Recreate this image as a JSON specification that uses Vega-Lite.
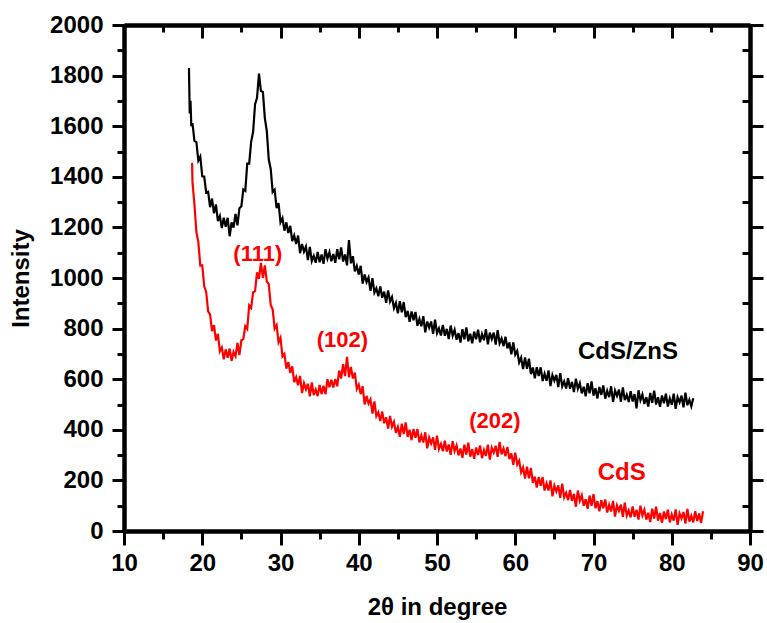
{
"$schema":"https://vega.github.io/schema/vega-lite/v6.json",
"width":626,"height":506,"autosize":"none",
"padding":{"left":124,"top":25,"right":17,"bottom":92},
"config":{"view":{"stroke":null},"font":"Liberation Sans",
"axis":{"domainColor":"#000","domainWidth":4,"tickColor":"#000","tickWidth":3,"grid":false,"labelFont":"Liberation Sans","labelFontWeight":"bold","labelFontSize":24,"labelColor":"#000","titleFont":"Liberation Sans","titleFontWeight":"bold","titleFontSize":24,"titleColor":"#000","labelFlush":false,"labelOverlap":false}},
"datasets":{
"zns":[{"t":18.3,"i":1830},{"t":18.4,"i":1650},{"t":18.5,"i":1700},{"t":18.6,"i":1600},{"t":18.75,"i":1612},{"t":19,"i":1542},{"t":19.25,"i":1537},{"t":19.5,"i":1464},{"t":19.75,"i":1480},{"t":20,"i":1402},{"t":20.25,"i":1401},{"t":20.5,"i":1338},{"t":20.75,"i":1341},{"t":21,"i":1280},{"t":21.25,"i":1314},{"t":21.5,"i":1256},{"t":21.75,"i":1291},{"t":22,"i":1225},{"t":22.25,"i":1245},{"t":22.5,"i":1197},{"t":22.75,"i":1238},{"t":23,"i":1203},{"t":23.25,"i":1238},{"t":23.5,"i":1165},{"t":23.75,"i":1220},{"t":24,"i":1199},{"t":24.25,"i":1253},{"t":24.5,"i":1208},{"t":24.75,"i":1276},{"t":25,"i":1284},{"t":25.25,"i":1350},{"t":25.5,"i":1344},{"t":25.75,"i":1452},{"t":26,"i":1452},{"t":26.25,"i":1539},{"t":26.5,"i":1578},{"t":26.75,"i":1687},{"t":27,"i":1712},{"t":27.25,"i":1808},{"t":27.5,"i":1739},{"t":27.75,"i":1735},{"t":28,"i":1632},{"t":28.25,"i":1581},{"t":28.5,"i":1468},{"t":28.75,"i":1431},{"t":29,"i":1340},{"t":29.25,"i":1349},{"t":29.5,"i":1276},{"t":29.75,"i":1296},{"t":30,"i":1220},{"t":30.25,"i":1237},{"t":30.5,"i":1187},{"t":30.75,"i":1220},{"t":31,"i":1178},{"t":31.25,"i":1206},{"t":31.5,"i":1146},{"t":31.75,"i":1168},{"t":32,"i":1134},{"t":32.25,"i":1168},{"t":32.5,"i":1098},{"t":32.75,"i":1134},{"t":33,"i":1104},{"t":33.25,"i":1124},{"t":33.5,"i":1071},{"t":33.75,"i":1123},{"t":34,"i":1067},{"t":34.25,"i":1087},{"t":34.5,"i":1060},{"t":34.75,"i":1103},{"t":35,"i":1062},{"t":35.25,"i":1093},{"t":35.5,"i":1056},{"t":35.75,"i":1114},{"t":36,"i":1077},{"t":36.25,"i":1102},{"t":36.5,"i":1066},{"t":36.75,"i":1095},{"t":37,"i":1060},{"t":37.25,"i":1114},{"t":37.5,"i":1074},{"t":37.75,"i":1121},{"t":38,"i":1065},{"t":38.25,"i":1093},{"t":38.5,"i":1050},{"t":38.75,"i":1150},{"t":39,"i":1058},{"t":39.25,"i":1086},{"t":39.5,"i":1026},{"t":39.75,"i":1048},{"t":40,"i":1014},{"t":40.25,"i":1048},{"t":40.5,"i":978},{"t":40.75,"i":1014},{"t":41,"i":984},{"t":41.25,"i":1002},{"t":41.5,"i":949},{"t":41.75,"i":999},{"t":42,"i":942},{"t":42.25,"i":959},{"t":42.5,"i":928},{"t":42.75,"i":967},{"t":43,"i":922},{"t":43.25,"i":946},{"t":43.5,"i":902},{"t":43.75,"i":951},{"t":44,"i":907},{"t":44.25,"i":925},{"t":44.5,"i":881},{"t":44.75,"i":902},{"t":45,"i":860},{"t":45.25,"i":908},{"t":45.5,"i":864},{"t":45.75,"i":905},{"t":46,"i":845},{"t":46.25,"i":870},{"t":46.5,"i":827},{"t":46.75,"i":868},{"t":47,"i":833},{"t":47.25,"i":866},{"t":47.5,"i":811},{"t":47.75,"i":838},{"t":48,"i":809},{"t":48.25,"i":849},{"t":48.5,"i":785},{"t":48.75,"i":828},{"t":49,"i":804},{"t":49.25,"i":828},{"t":49.5,"i":779},{"t":49.75,"i":835},{"t":50,"i":782},{"t":50.25,"i":801},{"t":50.5,"i":773},{"t":50.75,"i":814},{"t":51,"i":772},{"t":51.25,"i":799},{"t":51.5,"i":759},{"t":51.75,"i":812},{"t":52,"i":772},{"t":52.25,"i":795},{"t":52.5,"i":756},{"t":52.75,"i":782},{"t":53,"i":745},{"t":53.25,"i":798},{"t":53.5,"i":758},{"t":53.75,"i":805},{"t":54,"i":750},{"t":54.25,"i":780},{"t":54.5,"i":742},{"t":54.75,"i":788},{"t":55,"i":758},{"t":55.25,"i":796},{"t":55.5,"i":746},{"t":55.75,"i":778},{"t":56,"i":754},{"t":56.25,"i":798},{"t":56.5,"i":738},{"t":56.75,"i":784},{"t":57,"i":759},{"t":57.25,"i":784},{"t":57.5,"i":737},{"t":57.75,"i":794},{"t":58,"i":742},{"t":58.25,"i":761},{"t":58.5,"i":730},{"t":58.75,"i":768},{"t":59,"i":722},{"t":59.25,"i":745},{"t":59.5,"i":698},{"t":59.75,"i":745},{"t":60,"i":697},{"t":60.25,"i":712},{"t":60.5,"i":666},{"t":60.75,"i":685},{"t":61,"i":640},{"t":61.25,"i":686},{"t":61.5,"i":641},{"t":61.75,"i":681},{"t":62,"i":620},{"t":62.25,"i":646},{"t":62.5,"i":604},{"t":62.75,"i":647},{"t":63,"i":613},{"t":63.25,"i":647},{"t":63.5,"i":593},{"t":63.75,"i":622},{"t":64,"i":594},{"t":64.25,"i":635},{"t":64.5,"i":573},{"t":64.75,"i":616},{"t":65,"i":594},{"t":65.25,"i":617},{"t":65.5,"i":569},{"t":65.75,"i":624},{"t":66,"i":572},{"t":66.25,"i":591},{"t":66.5,"i":563},{"t":66.75,"i":604},{"t":67,"i":562},{"t":67.25,"i":589},{"t":67.5,"i":549},{"t":67.75,"i":602},{"t":68,"i":562},{"t":68.25,"i":584},{"t":68.5,"i":544},{"t":68.75,"i":570},{"t":69,"i":532},{"t":69.25,"i":584},{"t":69.5,"i":544},{"t":69.75,"i":591},{"t":70,"i":535},{"t":70.25,"i":564},{"t":70.5,"i":524},{"t":70.75,"i":569},{"t":71,"i":538},{"t":71.25,"i":575},{"t":71.5,"i":523},{"t":71.75,"i":554},{"t":72,"i":529},{"t":72.25,"i":572},{"t":72.5,"i":510},{"t":72.75,"i":555},{"t":73,"i":534},{"t":73.25,"i":559},{"t":73.5,"i":511},{"t":73.75,"i":568},{"t":74,"i":517},{"t":74.25,"i":538},{"t":74.5,"i":510},{"t":74.75,"i":553},{"t":75,"i":512},{"t":75.25,"i":541},{"t":75.5,"i":485},{"t":75.75,"i":556},{"t":76,"i":517},{"t":76.25,"i":540},{"t":76.5,"i":502},{"t":76.75,"i":529},{"t":77,"i":492},{"t":77.25,"i":546},{"t":77.5,"i":507},{"t":77.75,"i":555},{"t":78,"i":500},{"t":78.25,"i":529},{"t":78.5,"i":491},{"t":78.75,"i":536},{"t":79,"i":505},{"t":79.25,"i":543},{"t":79.5,"i":492},{"t":79.75,"i":524},{"t":80,"i":499},{"t":80.25,"i":543},{"t":80.5,"i":483},{"t":80.75,"i":529},{"t":81,"i":509},{"t":81.25,"i":535},{"t":81.5,"i":489},{"t":81.75,"i":547},{"t":82,"i":497},{"t":82.25,"i":519},{"t":82.5,"i":493},{"t":82.75,"i":525}],
"cds":[{"t":18.7,"i":1455},{"t":18.75,"i":1380},{"t":19,"i":1292},{"t":19.25,"i":1182},{"t":19.5,"i":1142},{"t":19.75,"i":1049},{"t":20,"i":1050},{"t":20.25,"i":967},{"t":20.5,"i":946},{"t":20.75,"i":868},{"t":21,"i":856},{"t":21.25,"i":790},{"t":21.5,"i":814},{"t":21.75,"i":753},{"t":22,"i":779},{"t":22.25,"i":710},{"t":22.5,"i":725},{"t":22.75,"i":679},{"t":23,"i":718},{"t":23.25,"i":685},{"t":23.5,"i":721},{"t":23.75,"i":673},{"t":24,"i":708},{"t":24.25,"i":691},{"t":24.5,"i":743},{"t":24.75,"i":695},{"t":25,"i":754},{"t":25.25,"i":759},{"t":25.5,"i":810},{"t":25.75,"i":799},{"t":26,"i":892},{"t":26.25,"i":882},{"t":26.5,"i":944},{"t":26.75,"i":948},{"t":27,"i":1022},{"t":27.25,"i":997},{"t":27.5,"i":1060},{"t":27.75,"i":1001},{"t":28,"i":1050},{"t":28.25,"i":987},{"t":28.5,"i":976},{"t":28.75,"i":893},{"t":29,"i":876},{"t":29.25,"i":800},{"t":29.5,"i":814},{"t":29.75,"i":746},{"t":30,"i":764},{"t":30.25,"i":690},{"t":30.5,"i":700},{"t":30.75,"i":642},{"t":31,"i":668},{"t":31.25,"i":625},{"t":31.5,"i":651},{"t":31.75,"i":588},{"t":32,"i":608},{"t":32.25,"i":576},{"t":32.5,"i":613},{"t":32.75,"i":545},{"t":33,"i":584},{"t":33.25,"i":560},{"t":33.5,"i":582},{"t":33.75,"i":532},{"t":34,"i":587},{"t":34.25,"i":537},{"t":34.5,"i":559},{"t":34.75,"i":533},{"t":35,"i":577},{"t":35.25,"i":541},{"t":35.5,"i":574},{"t":35.75,"i":540},{"t":36,"i":600},{"t":36.25,"i":568},{"t":36.5,"i":598},{"t":36.75,"i":567},{"t":37,"i":601},{"t":37.25,"i":572},{"t":37.5,"i":634},{"t":37.75,"i":603},{"t":38,"i":659},{"t":38.25,"i":612},{"t":38.5,"i":688},{"t":38.75,"i":608},{"t":39,"i":648},{"t":39.25,"i":603},{"t":39.5,"i":626},{"t":39.75,"i":561},{"t":40,"i":578},{"t":40.25,"i":541},{"t":40.5,"i":573},{"t":40.75,"i":500},{"t":41,"i":534},{"t":41.25,"i":504},{"t":41.5,"i":520},{"t":41.75,"i":464},{"t":42,"i":512},{"t":42.25,"i":454},{"t":42.5,"i":469},{"t":42.75,"i":435},{"t":43,"i":472},{"t":43.25,"i":426},{"t":43.5,"i":449},{"t":43.75,"i":405},{"t":44,"i":455},{"t":44.25,"i":412},{"t":44.5,"i":431},{"t":44.75,"i":388},{"t":45,"i":411},{"t":45.25,"i":372},{"t":45.5,"i":424},{"t":45.75,"i":383},{"t":46,"i":429},{"t":46.25,"i":372},{"t":46.5,"i":400},{"t":46.75,"i":359},{"t":47,"i":403},{"t":47.25,"i":369},{"t":47.5,"i":403},{"t":47.75,"i":350},{"t":48,"i":378},{"t":48.25,"i":350},{"t":48.5,"i":390},{"t":48.75,"i":327},{"t":49,"i":369},{"t":49.25,"i":346},{"t":49.5,"i":370},{"t":49.75,"i":321},{"t":50,"i":377},{"t":50.25,"i":324},{"t":50.5,"i":344},{"t":50.75,"i":315},{"t":51,"i":357},{"t":51.25,"i":314},{"t":51.5,"i":342},{"t":51.75,"i":301},{"t":52,"i":355},{"t":52.25,"i":316},{"t":52.5,"i":338},{"t":52.75,"i":299},{"t":53,"i":326},{"t":53.25,"i":289},{"t":53.5,"i":341},{"t":53.75,"i":302},{"t":54,"i":349},{"t":54.25,"i":294},{"t":54.5,"i":323},{"t":54.75,"i":285},{"t":55,"i":330},{"t":55.25,"i":300},{"t":55.5,"i":338},{"t":55.75,"i":288},{"t":56,"i":320},{"t":56.25,"i":297},{"t":56.5,"i":341},{"t":56.75,"i":282},{"t":57,"i":329},{"t":57.25,"i":310},{"t":57.5,"i":337},{"t":57.75,"i":293},{"t":58,"i":352},{"t":58.25,"i":303},{"t":58.5,"i":326},{"t":58.75,"i":296},{"t":59,"i":332},{"t":59.25,"i":284},{"t":59.5,"i":307},{"t":59.75,"i":262},{"t":60,"i":310},{"t":60.25,"i":263},{"t":60.5,"i":278},{"t":60.75,"i":232},{"t":61,"i":251},{"t":61.25,"i":207},{"t":61.5,"i":254},{"t":61.75,"i":208},{"t":62,"i":249},{"t":62.25,"i":190},{"t":62.5,"i":215},{"t":62.75,"i":172},{"t":63,"i":213},{"t":63.25,"i":179},{"t":63.5,"i":213},{"t":63.75,"i":160},{"t":64,"i":188},{"t":64.25,"i":160},{"t":64.5,"i":200},{"t":64.75,"i":137},{"t":65,"i":179},{"t":65.25,"i":156},{"t":65.5,"i":180},{"t":65.75,"i":131},{"t":66,"i":187},{"t":66.25,"i":133},{"t":66.5,"i":151},{"t":66.75,"i":122},{"t":67,"i":162},{"t":67.25,"i":119},{"t":67.5,"i":147},{"t":67.75,"i":96},{"t":68,"i":160},{"t":68.25,"i":119},{"t":68.5,"i":141},{"t":68.75,"i":100},{"t":69,"i":126},{"t":69.25,"i":88},{"t":69.5,"i":140},{"t":69.75,"i":100},{"t":70,"i":146},{"t":70.25,"i":90},{"t":70.5,"i":118},{"t":70.75,"i":78},{"t":71,"i":122},{"t":71.25,"i":90},{"t":71.5,"i":125},{"t":71.75,"i":73},{"t":72,"i":103},{"t":72.25,"i":77},{"t":72.5,"i":119},{"t":72.75,"i":57},{"t":73,"i":101},{"t":73.25,"i":80},{"t":73.5,"i":104},{"t":73.75,"i":56},{"t":74,"i":112},{"t":74.25,"i":61},{"t":74.5,"i":81},{"t":74.75,"i":54},{"t":75,"i":97},{"t":75.25,"i":56},{"t":75.5,"i":84},{"t":75.75,"i":45},{"t":76,"i":100},{"t":76.25,"i":61},{"t":76.5,"i":84},{"t":76.75,"i":45},{"t":77,"i":72},{"t":77.25,"i":35},{"t":77.5,"i":88},{"t":77.75,"i":49},{"t":78,"i":96},{"t":78.25,"i":41},{"t":78.5,"i":71},{"t":78.75,"i":32},{"t":79,"i":77},{"t":79.25,"i":47},{"t":79.5,"i":84},{"t":79.75,"i":34},{"t":80,"i":65},{"t":80.25,"i":41},{"t":80.5,"i":85},{"t":80.75,"i":24},{"t":81,"i":70},{"t":81.25,"i":50},{"t":81.5,"i":75},{"t":81.75,"i":29},{"t":82,"i":87},{"t":82.25,"i":37},{"t":82.5,"i":60},{"t":82.75,"i":34},{"t":83,"i":78},{"t":83.25,"i":39},{"t":83.5,"i":69},{"t":83.75,"i":32},{"t":84,"i":78}],
"ann":[{"t":27.1,"i":1095,"label":"(111)","kind":"hkl"},{"t":37.9,"i":755,"label":"(102)","kind":"hkl"},{"t":57.4,"i":435,"label":"(202)","kind":"hkl"},{"t":74.4,"i":707,"label":"CdS/ZnS","kind":"zns"},{"t":73.6,"i":229,"label":"CdS","kind":"cds"}]
},
"layer":[
{"data":{"name":"zns"},"mark":{"type":"line","color":"#000000","strokeWidth":2.2},
"encoding":{
"x":{"field":"t","type":"quantitative","scale":{"domain":[10,90],"nice":false},
"axis":{"orient":"bottom","title":"2θ in degree","values":[10,20,30,40,50,60,70,80,90],"tickSize":14,"labelPadding":6,"titlePadding":20}},
"y":{"field":"i","type":"quantitative","scale":{"domain":[0,2000],"nice":false},
"axis":{"orient":"left","title":"Intensity","values":[0,200,400,600,800,1000,1200,1400,1600,1800,2000],"format":"d","tickSize":12,"labelPadding":9,"titlePadding":16}}}},
{"data":{"name":"cds"},"mark":{"type":"line","color":"#ff0000","strokeWidth":2.2},
"encoding":{
"x":{"field":"t","type":"quantitative","axis":{"orient":"bottom","title":null,"labels":false,"values":[15,25,35,45,55,65,75,85],"tickSize":8}},
"y":{"field":"i","type":"quantitative","axis":{"orient":"left","title":null,"labels":false,"values":[100,300,500,700,900,1100,1300,1500,1700,1900],"tickSize":7}}}},
{"data":{"name":"ann"},"transform":[{"filter":"datum.kind === 'hkl'"}],"mark":{"type":"text","color":"#ff0000","fontWeight":"bold","fontSize":22,"font":"Liberation Sans","align":"center","baseline":"middle"},
"encoding":{"x":{"field":"t","type":"quantitative","axis":{"orient":"top","title":null,"labels":false,"values":[10,20,30,40,50,60,70,80,90],"tickSize":-13}},
"y":{"field":"i","type":"quantitative","axis":{"orient":"right","title":null,"labels":false,"values":[0,200,400,600,800,1000,1200,1400,1600,1800,2000],"tickSize":13}},"text":{"field":"label"}}},
{"data":{"name":"ann"},"transform":[{"filter":"datum.kind === 'zns'"}],"mark":{"type":"text","color":"#000000","fontWeight":"bold","fontSize":24,"font":"Liberation Sans","align":"center","baseline":"middle"},
"encoding":{"x":{"field":"t","type":"quantitative","axis":{"orient":"top","title":null,"labels":false,"values":[15,25,35,45,55,65,75,85],"tickSize":-7}},
"y":{"field":"i","type":"quantitative","axis":{"orient":"right","title":null,"labels":false,"values":[100,300,500,700,900,1100,1300,1500,1700,1900],"tickSize":-8}},"text":{"field":"label"}}},
{"data":{"name":"ann"},"transform":[{"filter":"datum.kind === 'cds'"}],"mark":{"type":"text","color":"#ff0000","fontWeight":"bold","fontSize":24,"font":"Liberation Sans","align":"center","baseline":"middle"},
"encoding":{"x":{"field":"t","type":"quantitative","axis":null},"y":{"field":"i","type":"quantitative","axis":null},"text":{"field":"label"}}}
],
"resolve":{"axis":{"x":"independent","y":"independent"}}
}
